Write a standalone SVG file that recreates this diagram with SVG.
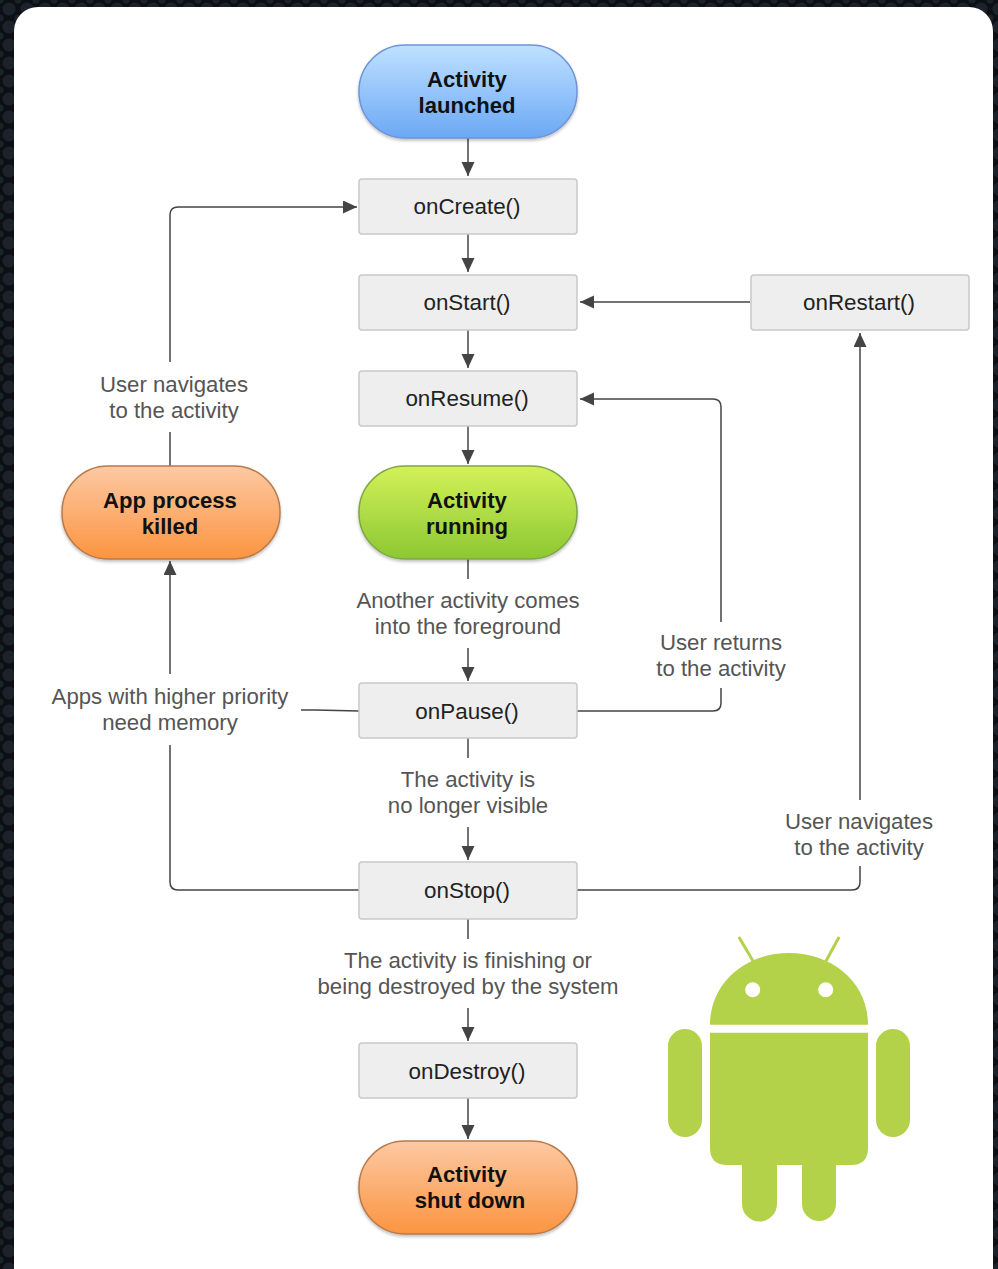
<svg xmlns="http://www.w3.org/2000/svg" width="998" height="1269" viewBox="0 0 998 1269">
<style>
text{font-family:"Liberation Sans",Arial,sans-serif;text-anchor:middle}
.m{font-size:22.4px;fill:#222}
.b{font-size:22.1px;font-weight:700;fill:#111}
.l{font-size:22.2px;fill:#555}
.box{fill:#eeeeee;stroke:#c9c9c9;stroke-width:1.5}
.pill{stroke-width:1.5;filter:url(#sh)}
.c{fill:none;stroke:#444;stroke-width:1.5}
.d{fill:#b4d14a}
</style>
<defs>
<pattern id="tex" width="18" height="18" patternUnits="userSpaceOnUse"><rect width="18" height="18" fill="#0c1015"/><circle cx="9" cy="9" r="6.5" fill="#1b222a"/><circle cx="0" cy="0" r="3.5" fill="#1b222a"/><circle cx="18" cy="0" r="3.5" fill="#1b222a"/><circle cx="0" cy="18" r="3.5" fill="#1b222a"/><circle cx="18" cy="18" r="3.5" fill="#1b222a"/></pattern>
<linearGradient id="blue" x1="0" y1="0" x2="0" y2="1"><stop offset="0" stop-color="#bfe1ff"/><stop offset="1" stop-color="#6ba8f5"/></linearGradient>
<linearGradient id="green" x1="0" y1="0" x2="0" y2="1"><stop offset="0" stop-color="#d3f159"/><stop offset="1" stop-color="#8cc832"/></linearGradient>
<linearGradient id="orange" x1="0" y1="0" x2="0" y2="1"><stop offset="0" stop-color="#fdc9a3"/><stop offset="1" stop-color="#fb9440"/></linearGradient>
<filter id="sh" x="-10%" y="-10%" width="120%" height="125%"><feDropShadow dx="0" dy="2" stdDeviation="1.5" flood-color="#000" flood-opacity=".25"/></filter>
<marker id="a" markerUnits="userSpaceOnUse" markerWidth="15" markerHeight="14" refX="14" refY="6.500" orient="auto"><path d="M0 0L14 6.500L0 13z" fill="#444"/></marker>
</defs>
<rect width="998" height="1269" fill="url(#tex)"/>
<rect x="14" y="7" width="979" height="1290" rx="24" fill="#fff"/>
<g id="connectors">
<path class="c" marker-end="url(#a)" d="M468 138V176"/>
<path class="c" marker-end="url(#a)" d="M468 234V272"/>
<path class="c" marker-end="url(#a)" d="M468 330V368"/>
<path class="c" marker-end="url(#a)" d="M468 426V464"/>
<path class="c" d="M468 559V579"/>
<path class="c" marker-end="url(#a)" d="M468 648V681"/>
<path class="c" d="M468 738V758"/>
<path class="c" marker-end="url(#a)" d="M468 827V860"/>
<path class="c" d="M468 919V939"/>
<path class="c" marker-end="url(#a)" d="M468 1008V1041"/>
<path class="c" marker-end="url(#a)" d="M468 1098V1139"/>
<path class="c" marker-end="url(#a)" d="M750 302H580"/>
<path class="c" d="M170 466V432"/>
<path class="c" marker-end="url(#a)" d="M170 362V215Q170 207 178 207H357"/>
<path class="c" marker-end="url(#a)" d="M170 674V561"/>
<path class="c" d="M359 711L315 710H301"/>
<path class="c" d="M359 890H178Q170 890 170 882V745"/>
<path class="c" d="M577 711H713Q721 711 721 703V688"/>
<path class="c" marker-end="url(#a)" d="M721 622V407Q721 399 713 399H580"/>
<path class="c" d="M577 890H852Q860 890 860 882V866"/>
<path class="c" marker-end="url(#a)" d="M860 800V333"/>
</g>
<g id="activity-launched"><rect class="pill" x="359" y="45" width="218" height="93" rx="46" fill="url(#blue)" stroke="#6f93d8"/><text class="b" x="467" y="87">Activity</text><text class="b" x="467" y="113">launched</text></g>
<g id="oncreate"><rect class="box" x="359" y="179" width="218" height="55" rx="3"/><text class="m" x="467" y="214">onCreate()</text></g>
<g id="onstart"><rect class="box" x="359" y="275" width="218" height="55" rx="3"/><text class="m" x="467" y="310">onStart()</text></g>
<g id="onrestart"><rect class="box" x="751" y="275" width="218" height="55" rx="3"/><text class="m" x="859" y="310">onRestart()</text></g>
<g id="onresume"><rect class="box" x="359" y="371" width="218" height="55" rx="3"/><text class="m" x="467" y="406">onResume()</text></g>
<g id="activity-running"><rect class="pill" x="359" y="466" width="218" height="93" rx="46" fill="url(#green)" stroke="#7fa54a"/><text class="b" x="467" y="508">Activity</text><text class="b" x="467" y="534">running</text></g>
<g id="app-process-killed"><rect class="pill" x="62" y="466" width="218" height="93" rx="46" fill="url(#orange)" stroke="#b97a48"/><text class="b" x="170" y="508">App process</text><text class="b" x="170" y="534">killed</text></g>
<g id="onpause"><rect class="box" x="359" y="683" width="218" height="55" rx="3"/><text class="m" x="467" y="719">onPause()</text></g>
<g id="onstop"><rect class="box" x="359" y="862" width="218" height="57" rx="3"/><text class="m" x="467" y="898">onStop()</text></g>
<g id="ondestroy"><rect class="box" x="359" y="1043" width="218" height="55" rx="3"/><text class="m" x="467" y="1079">onDestroy()</text></g>
<g id="activity-shut-down"><rect class="pill" x="359" y="1141" width="218" height="93" rx="46" fill="url(#orange)" stroke="#b97a48"/><text class="b" x="467" y="1182">Activity</text><text class="b" x="470" y="1208">shut down</text></g>
<g id="labels">
<text class="l" x="174" y="392">User navigates</text><text class="l" x="174" y="418">to the activity</text>
<text class="l" x="468" y="608">Another activity comes</text><text class="l" x="468" y="634">into the foreground</text>
<text class="l" x="721" y="650">User returns</text><text class="l" x="721" y="676">to the activity</text>
<text class="l" x="170" y="704">Apps with higher priority</text><text class="l" x="170" y="730">need memory</text>
<text class="l" x="468" y="787">The activity is</text><text class="l" x="468" y="813">no longer visible</text>
<text class="l" x="859" y="829">User navigates</text><text class="l" x="859" y="855">to the activity</text>
<text class="l" x="468" y="968">The activity is finishing or</text><text class="l" x="468" y="994">being destroyed by the system</text>
</g>
<g id="android-logo">
<path d="M739.500 938L753 961M838.500 938L826 961" stroke="#b4d14a" stroke-width="3" stroke-linecap="round" fill="none"/>
<path class="d" d="M710 1024.700C710 983 745 953 789 953C833 953 868 983 868 1024.700z"/>
<circle cx="752.700" cy="989.700" r="7.500" fill="#fff"/><circle cx="825.700" cy="989.700" r="7.500" fill="#fff"/>
<path class="d" d="M710 1032.700H868V1148Q868 1165 851 1165H836V1204A17 17 0 0 1 802 1204V1165H777V1204A17.500 17.500 0 0 1 742 1204V1165H727Q710 1165 710 1148z"/>
<rect class="d" x="668" y="1029" width="34" height="108" rx="17"/>
<rect class="d" x="876" y="1029" width="34" height="108" rx="17"/>
</g>
</svg>
